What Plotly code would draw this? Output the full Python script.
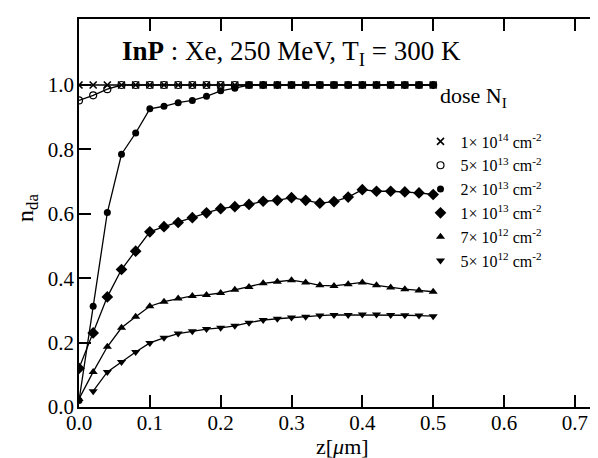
import plotly.graph_objects as go

# depth z [um]
z = [0.00, 0.02, 0.04, 0.06, 0.08, 0.10, 0.12, 0.14, 0.16, 0.18, 0.20, 0.22, 0.24,
     0.26, 0.28, 0.30, 0.32, 0.34, 0.36, 0.38, 0.40, 0.42, 0.44, 0.46, 0.48, 0.50]
z_low = z[1:]

dose_labels = [
    "1× 10<sup>14</sup> cm<sup>-2</sup>",
    "5× 10<sup>13</sup> cm<sup>-2</sup>",
    "2× 10<sup>13</sup> cm<sup>-2</sup>",
    "1× 10<sup>13</sup> cm<sup>-2</sup>",
    "7× 10<sup>12</sup> cm<sup>-2</sup>",
    "5× 10<sup>12</sup> cm<sup>-2</sup>",
]

n_1e14 = [1.0] * 26
n_5e13 = [0.952, 0.968, 0.987, 1.0, 1.0, 1.0, 1.0, 1.0, 1.0, 1.0, 1.0, 1.0, 1.0,
          1.0, 1.0, 1.0, 1.0, 1.0, 1.0, 1.0, 1.0, 1.0, 1.0, 1.0, 1.0, 1.0]
n_2e13 = [0.02, 0.313, 0.604, 0.785, 0.851, 0.926, 0.934, 0.945, 0.952, 0.965, 0.982, 0.990, 1.0,
          1.0, 1.0, 1.0, 1.0, 1.0, 1.0, 1.0, 1.0, 1.0, 1.0, 1.0, 1.0, 1.0]
n_1e13 = [0.12, 0.230, 0.342, 0.427, 0.484, 0.544, 0.560, 0.573, 0.588, 0.603, 0.616, 0.622, 0.629,
          0.639, 0.642, 0.650, 0.642, 0.633, 0.638, 0.652, 0.675, 0.670, 0.670, 0.668, 0.665, 0.660]
n_7e12 = [0.025, 0.109, 0.187, 0.246, 0.280, 0.313, 0.327, 0.337, 0.345, 0.348, 0.354, 0.364, 0.373,
          0.384, 0.389, 0.394, 0.387, 0.378, 0.376, 0.381, 0.387, 0.378, 0.371, 0.366, 0.362, 0.358]
n_5e12 = [0.049, 0.109, 0.140, 0.171, 0.199, 0.215, 0.228, 0.235, 0.242, 0.246, 0.252, 0.262,
          0.270, 0.274, 0.278, 0.280, 0.284, 0.286, 0.286, 0.287, 0.287, 0.286, 0.285, 0.284, 0.282]

x_ticks = [0.0, 0.1, 0.2, 0.3, 0.4, 0.5, 0.6, 0.7]
y_ticks = [0.0, 0.2, 0.4, 0.6, 0.8, 1.0]

FONT = "Liberation Serif, Times New Roman, serif"

series = [
    (z, n_1e14, dict(symbol="x-thin", size=7, line=dict(width=1.6, color="black"), color="black")),
    (z, n_5e13, dict(symbol="circle-open", size=7, line=dict(width=1.2, color="black"), color="black")),
    (z, n_2e13, dict(symbol="circle", size=7, color="black")),
    (z, n_1e13, dict(symbol="diamond", size=9, color="black")),
    (z, n_7e12, dict(symbol="triangle-up", size=8, color="black")),
    (z_low, n_5e12, dict(symbol="triangle-down", size=8, color="black")),
]

fig = go.Figure()
for (xs, ys, mk), name in zip(series, dose_labels):
    fig.add_trace(go.Scatter(x=xs, y=ys, mode="lines+markers", marker=mk,
                             line=dict(color="black", width=1.3), showlegend=False))
for (xs, ys, mk), name in zip(series, dose_labels):
    fig.add_trace(go.Scatter(x=[None], y=[None], mode="markers", marker=mk, name=name,
                             showlegend=True))
# right-side mirrored ticks only
fig.add_trace(go.Scatter(x=[None], y=[None], yaxis="y2", showlegend=False, hoverinfo="skip"))

fig.update_layout(
    width=598, height=458,
    margin=dict(l=71, r=0, t=11, b=59),
    paper_bgcolor="white", plot_bgcolor="white",
    font=dict(family=FONT, color="black", size=21),
    showlegend=True,
    legend=dict(
        x=0.648, y=0.728, xanchor="left", yanchor="top",
        bgcolor="rgba(0,0,0,0)",
        font=dict(size=16, family=FONT),
        itemwidth=30,
    ),
    xaxis=dict(
        range=[0, 0.744], tickvals=x_ticks, ticktext=[f"{v:.1f}" for v in x_ticks],
        showline=True, linecolor="black", linewidth=1.5, mirror="ticks",
        ticks="inside", ticklen=12, tickwidth=1.5, tickcolor="black",
        showgrid=False, zeroline=False, ticklabelstandoff=-4,
        tickfont=dict(size=21, family=FONT),
    ),
    yaxis=dict(
        range=[0, 1.205], tickvals=y_ticks, ticktext=[f"{v:.1f}" for v in y_ticks],
        showline=True, linecolor="black", linewidth=1.5, mirror=False,
        ticks="inside", ticklen=12, tickwidth=1.5, tickcolor="black",
        showgrid=False, zeroline=False, ticklabelstandoff=-1,
        tickfont=dict(size=21, family=FONT),
    ),
    yaxis2=dict(
        overlaying="y", side="right", anchor="x", range=[0, 1.205], tickvals=y_ticks,
        showline=False, ticks="inside", ticklen=8, tickwidth=1.5, tickcolor="black",
        showticklabels=False, showgrid=False, zeroline=False,
    ),
    annotations=[
        dict(text="<b>InP</b> : Xe, 250 MeV, T<sub>I</sub> = 300 K",
             xref="paper", yref="paper", x=0.0776, y=0.912, xanchor="left", yanchor="middle",
             showarrow=False, font=dict(size=27, family=FONT, color="black")),
        dict(text="dose N<sub>I</sub>",
             xref="paper", yref="paper", x=0.681, y=0.798, xanchor="left", yanchor="middle",
             showarrow=False, font=dict(size=22, family=FONT, color="black")),
        dict(text="z[<i>μ</i>m]",
             xref="paper", yref="paper", x=0.5, y=-0.139, xanchor="center", yanchor="bottom",
             showarrow=False, font=dict(size=22, family=FONT, color="black")),
        dict(text="n<sub>da</sub>", textangle=-90,
             xref="paper", yref="paper", x=-0.0987, y=0.513, xanchor="center", yanchor="middle",
             showarrow=False, font=dict(size=24, family=FONT, color="black")),
    ],
)

fig.write_html("out.html")
